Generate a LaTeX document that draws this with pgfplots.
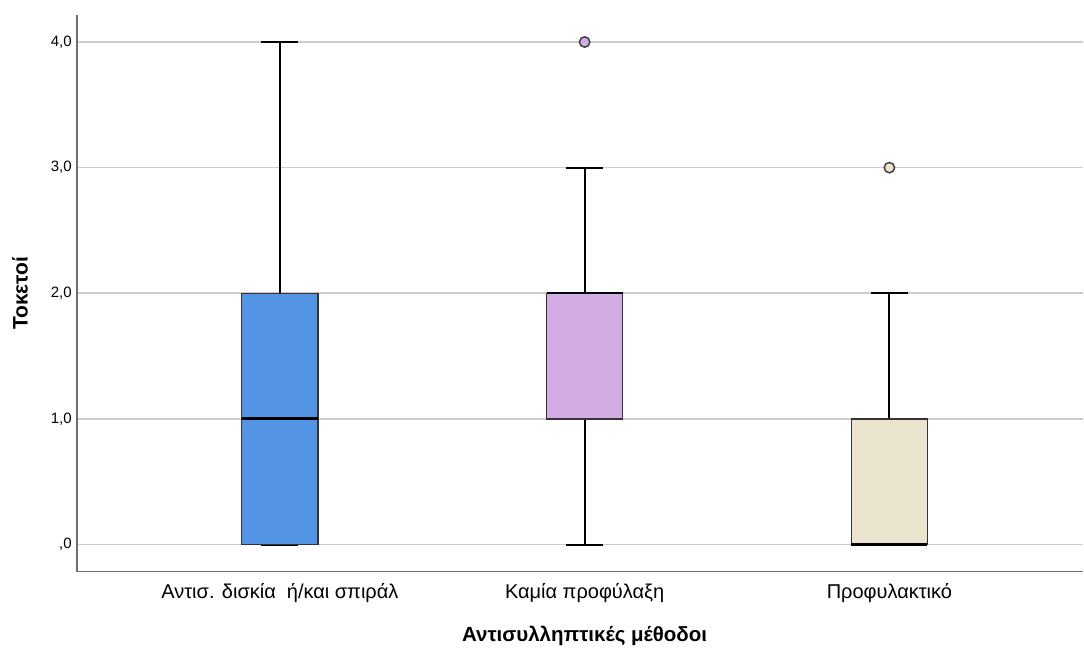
\documentclass[border=0pt]{standalone}
\usepackage{fontspec}
\setmainfont{Liberation Sans}
\usepackage{pgfplots}
\pgfplotsset{compat=1.18}
\usepgfplotslibrary{statistics}
\definecolor{cblue}{RGB}{83,148,228}
\definecolor{cpurple}{RGB}{211,172,229}
\definecolor{cbeige}{RGB}{234,228,206}
\definecolor{gridc}{RGB}{204,204,204}
\definecolor{axc}{RGB}{110,110,110}
\begin{document}
\begin{tikzpicture}
\begin{axis}[
  scale only axis, width=1007pt, height=557pt,
  xmin=0.334, xmax=3.636, ymin=-0.215, ymax=4.215,
  axis x line*=bottom, axis y line*=left,
  axis line style={axc, line width=1.3pt, -},
  ytick={0,1,2,3,4}, yticklabels={{,0},{1,0},{2,0},{3,0},{4,0}},
  xtick={1,2,3},
  xticklabels={{Αντισ. δισκία~ ή/και σπιράλ},{Καμία προφύλαξη},{Προφυλακτικό}},
  major tick length=0pt,
  ymajorgrids, grid style={gridc, line width=1.6pt},
  yticklabel style={font=\fontsize{15}{17}\selectfont, inner sep=0pt, anchor=east, xshift=-5pt},
  xticklabel style={font=\fontsize{20}{23}\selectfont, inner sep=0pt, anchor=north, yshift=-12pt},
  boxplot/draw direction=y,
  clip=false,
]
\addplot[boxplot prepared={draw position=1, lower whisker=0, lower quartile=0, median=1, upper quartile=2, upper whisker=4, box extend=0.25, whisker extend=0.122},
  boxplot/every box/.style={draw=black!80, line width=1.2pt, fill=cblue},
  boxplot/every whisker/.style={black, line width=2pt},
  boxplot/every median/.style={black, line width=3pt},
  mark=*, mark size=5.2pt, mark options={fill=cblue, draw=black!75, line width=1.5pt}]
  coordinates {};
\addplot[boxplot prepared={draw position=2, lower whisker=0, lower quartile=1, median=2, upper quartile=2, upper whisker=3, box extend=0.25, whisker extend=0.122},
  boxplot/every box/.style={draw=black!80, line width=1.2pt, fill=cpurple},
  boxplot/every whisker/.style={black, line width=2pt},
  boxplot/every median/.style={black, line width=2.2pt},
  mark=*, mark size=5.2pt, mark options={fill=cpurple, draw=black!75, line width=1.5pt}]
  table[row sep=\\, y index=0] {data\\ 4\\};
\addplot[boxplot prepared={draw position=3, lower whisker=0, lower quartile=0, median=0, upper quartile=1, upper whisker=2, box extend=0.25, whisker extend=0.122},
  boxplot/every box/.style={draw=black!80, line width=1.2pt, fill=cbeige},
  boxplot/every whisker/.style={black, line width=2pt},
  boxplot/every median/.style={black, line width=2.2pt},
  mark=*, mark size=5.2pt, mark options={fill=cbeige, draw=black!75, line width=1.5pt}]
  table[row sep=\\, y index=0] {data\\ 3\\};
\node[rotate=90, font=\bfseries\fontsize{21}{24}\selectfont] at (rel axis cs:-0.0566,0.5) {Τοκετοί};
\node[font=\bfseries\fontsize{20.5}{24}\selectfont] at (rel axis cs:0.5045,-0.1149) {Αντισυλληπτικές μέθοδοι};
\path (rel axis cs:-0.07646,-0.14183) rectangle (rel axis cs:1,1.02693);
\end{axis}
\end{tikzpicture}
\end{document}
